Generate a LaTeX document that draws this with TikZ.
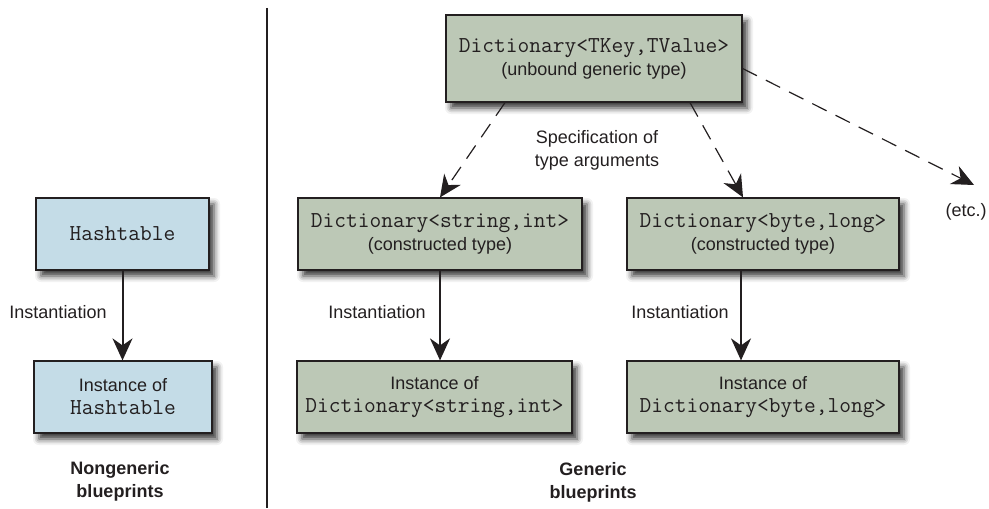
\documentclass[tikz,border=0pt]{standalone}
\usepackage{fontspec}
\setmainfont{Liberation Sans}
\usepackage{tikz}
\usepackage{xcolor}
\usetikzlibrary{positioning}
\usetikzlibrary{calc}
\usetikzlibrary{arrows.meta}
\usetikzlibrary{shadows.blur}

\definecolor{bluebox}{HTML}{C4DCE7}
\definecolor{greenbox}{HTML}{BCC8B6}
\definecolor{inkgray}{HTML}{231F20}
\newcommand{\code}[1]{{\fontsize{11.4}{11}\selectfont\ttfamily #1}}

\begin{document}
\begin{tikzpicture}[x=0.5pt, y=-0.5pt, auto]
% tikz settings
\fontsize{9}{11.5}\selectfont
\tikzstyle{block} = [rectangle, draw=inkgray, line width=0.6pt, text=inkgray,
    text centered, minimum height=36pt, inner sep=2pt,
    blur shadow={shadow xshift=2.5pt, shadow yshift=-3pt, shadow blur radius=3pt, shadow opacity=80}]
\tikzstyle{plain} = [block, fill=bluebox]
\tikzstyle{generic} = [block, fill=greenbox]
\tikzstyle{line} = [draw=inkgray, line width=1pt, -{Stealth[length=11pt, width=10pt, inset=3.5pt]}]
\tikzstyle{spec} = [draw=inkgray, line width=0.6pt, dash pattern=on 8pt off 5pt, -{Stealth[length=11pt, width=10pt, inset=3.5pt]}]
\tikzstyle{caption} = [text=inkgray, align=center, font=\bfseries]
\tikzstyle{label} = [text=inkgray, align=center]

\useasboundingbox (0,0) rectangle (989,508);

% divider
\draw[inkgray, line width=1pt] (267,8) -- (267,508);

% the tikz picture
\node [plain, align=center, minimum width=86.5pt] (hashtable) at (122.5,234) {\code{Hashtable}};
\node [plain, align=center, minimum width=89pt] (hashinstance) at (123,397) {Instance of\\ \code{Hashtable}};

\node [generic, align=center, minimum width=148pt, minimum height=43.5pt] (unbound) at (594,58.5) {\code{Dictionary<TKey,TValue>}\\ (unbound generic type)};
\node [generic, align=center, minimum width=142pt] (stringtype) at (440,234) {\code{Dictionary<string,int>}\\ (constructed type)};
\node [generic, align=center, minimum width=136pt] (bytetype) at (763,234) {\code{Dictionary<byte,long>}\\ (constructed type)};
\node [generic, align=center, minimum width=137.5pt] (stringinstance) at (434.5,397) {Instance of\\ \code{Dictionary<string,int>}};
\node [generic, align=center, minimum width=136pt] (byteinstance) at (763,397) {Instance of\\ \code{Dictionary<byte,long>}};

% labels
\node [label] (spec) at (597,150) {Specification of\\ type arguments};
\node [label] (etc) at (966,212) {(etc.)};
\coordinate (etcend) at (974,185);
\node [label] (inst1) at (58,312) {Instantiation};
\node [label] (inst2) at (377,312) {Instantiation};
\node [label] (inst3) at (680,312) {Instantiation};
\node [caption] (nongeneric) at (120,481) {Nongeneric\\ blueprints};
\node [caption] (generics) at (593,482) {Generic\\ blueprints};

% connectors
\path [line] (hashtable.south) -- (hashtable.south |- hashinstance.north);
\path [line] (stringtype.south) -- (stringtype.south |- stringinstance.north);
\path [line] ([xshift=-11pt]bytetype.south) -- ([xshift=-11pt]bytetype.south |- byteinstance.north);

\path [spec] ([xshift=-44.5pt]unbound.south) -- (stringtype.north);
\path [spec] ([xshift=48pt]unbound.south) -- ([xshift=-10pt]bytetype.north);
\path [spec] ([yshift=-5pt]unbound.east) -- (etcend);
\end{tikzpicture}
\end{document}
